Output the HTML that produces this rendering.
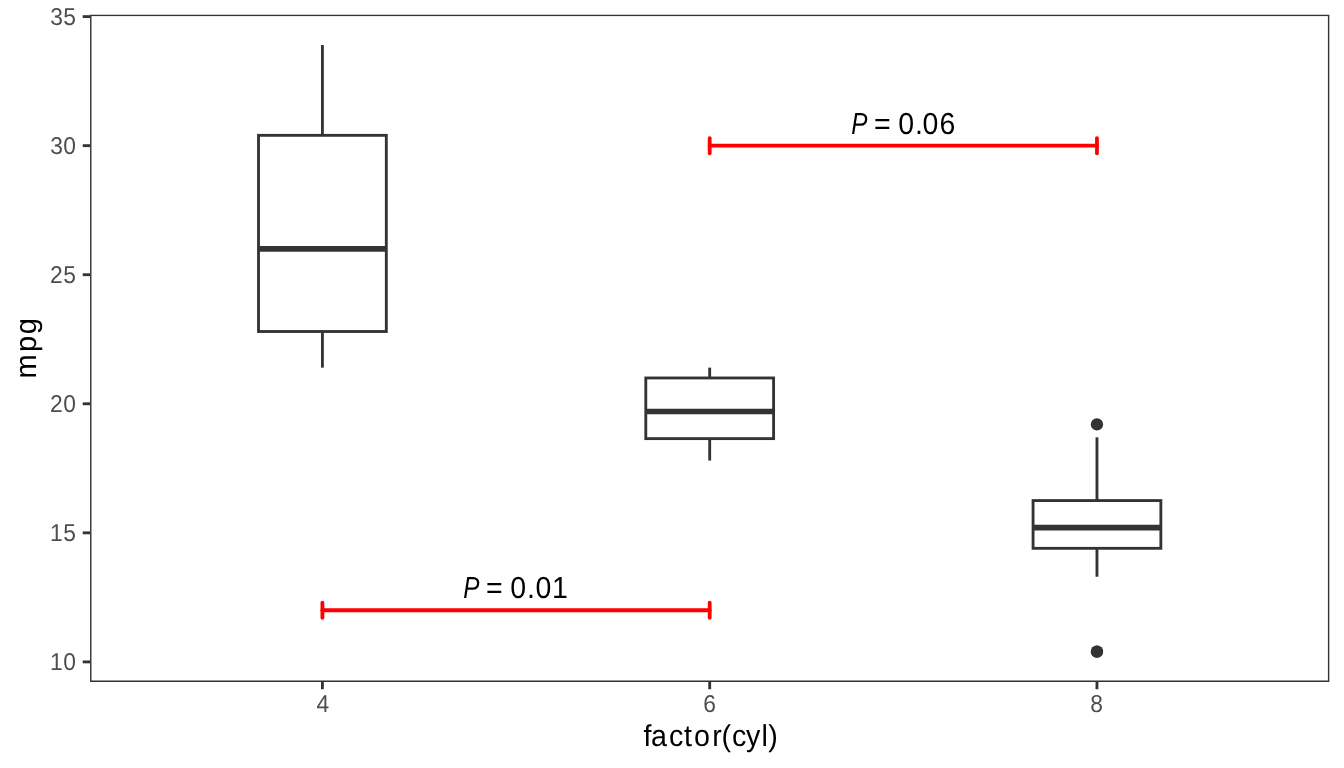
<!DOCTYPE html>
<html lang="en">
<head>
<meta charset="utf-8">
<title>mpg by factor(cyl)</title>
<style>
html,body{margin:0;padding:0;background:#fff;}
body{width:1344px;height:768px;overflow:hidden;}
svg{display:block;}
text{font-family:"Liberation Sans",sans-serif;white-space:pre;text-rendering:geometricPrecision;}
.ax{fill:#4d4d4d;}
.tt{fill:#000;}
.an{fill:#000;}
.bx{fill:#fff;stroke:#333;stroke-width:2.85;stroke-linejoin:miter;}
.wh{fill:none;stroke:#333;stroke-width:2.85;stroke-linecap:butt;}
.md{fill:none;stroke:#333;stroke-width:5.7;stroke-linecap:butt;}
.tk{fill:none;stroke:#333;stroke-width:2.85;stroke-linecap:butt;}
.sg{fill:none;stroke:#f00;stroke-width:3.8;stroke-linecap:round;stroke-linejoin:round;}
.pt{fill:#333;stroke:none;}
</style>
</head>
<body>
<svg width="1344" height="768" viewBox="0 0 1344 768" role="img" aria-label="Boxplot of mpg by factor(cyl) with P value annotations">
<rect x="0" y="0" width="1344" height="768" fill="#fff"/>
<defs><clipPath id="pc"><rect x="90.05" y="14.67" width="1239.28" height="667.23"/></clipPath></defs>
<g>
<line class="wh" x1="322.41" y1="135.34" x2="322.41" y2="45"/>
<line class="wh" x1="322.41" y1="331.51" x2="322.41" y2="367.64"/>
<rect class="bx" x="258.51" y="135.34" width="127.8" height="196.17"/>
<line class="md" x1="258.51" y1="248.91" x2="386.32" y2="248.91"/>
<line class="wh" x1="709.69" y1="377.97" x2="709.69" y2="367.64"/>
<line class="wh" x1="709.69" y1="438.63" x2="709.69" y2="460.57"/>
<rect class="bx" x="645.79" y="377.97" width="127.8" height="60.66"/>
<line class="md" x1="645.79" y1="411.52" x2="773.59" y2="411.52"/>
<circle class="pt" cx="1096.96" cy="424.43" r="6.15"/>
<circle class="pt" cx="1096.96" cy="651.57" r="6.15"/>
<circle class="pt" cx="1096.96" cy="651.57" r="6.15"/>
<line class="wh" x1="1096.96" y1="500.57" x2="1096.96" y2="437.34"/>
<line class="wh" x1="1096.96" y1="548.32" x2="1096.96" y2="576.72"/>
<rect class="bx" x="1033.06" y="500.57" width="127.8" height="47.75"/>
<line class="md" x1="1033.06" y1="527.68" x2="1160.87" y2="527.68"/>
</g>
<line class="sg" x1="709.69" y1="145.66" x2="1096.96" y2="145.66"/>
<line class="sg" x1="709.69" y1="138.06" x2="709.69" y2="153.26"/>
<line class="sg" x1="1096.96" y1="138.06" x2="1096.96" y2="153.26"/>
<line class="sg" x1="322.41" y1="610.27" x2="709.69" y2="610.27"/>
<line class="sg" x1="322.41" y1="602.67" x2="322.41" y2="617.87"/>
<line class="sg" x1="709.69" y1="602.67" x2="709.69" y2="617.87"/>
<text class="an" font-size="30.4" transform="translate(0 134) scale(0.9375 1)" x="908.13 928.41 932.28 950.03 958.16 975.89 983.97 1002.09" y="0"><tspan font-style="italic" textLength="17.3" lengthAdjust="spacingAndGlyphs">P</tspan> = 0.06</text>
<text class="an" font-size="30.4" transform="translate(0 598) scale(0.9375 1)" x="494.26 514.54 518.41 536.16 544.29 562.02 571.12 588.68" y="0"><tspan font-style="italic" textLength="17.3" lengthAdjust="spacingAndGlyphs">P</tspan> = 0.01</text>
<rect x="90.05" y="14.67" width="1239.28" height="667.23" fill="none" stroke="#333" stroke-width="2.85" clip-path="url(#pc)"/>
<line class="tk" x1="82.72" y1="661.9" x2="90.05" y2="661.9"/>
<text class="ax" font-size="24.4" transform="translate(0 670) scale(0.9344 1)" x="53.4 67.65" y="0">10</text>
<line class="tk" x1="82.72" y1="532.84" x2="90.05" y2="532.84"/>
<text class="ax" font-size="24.4" transform="translate(0 541) scale(0.9344 1)" x="53.4 67.65" y="0">15</text>
<line class="tk" x1="82.72" y1="403.78" x2="90.05" y2="403.78"/>
<text class="ax" font-size="24.4" transform="translate(0 412) scale(0.9344 1)" x="53.59 67.65" y="0">20</text>
<line class="tk" x1="82.72" y1="274.72" x2="90.05" y2="274.72"/>
<text class="ax" font-size="24.4" transform="translate(0 283) scale(0.9344 1)" x="53.59 67.65" y="0">25</text>
<line class="tk" x1="82.72" y1="145.66" x2="90.05" y2="145.66"/>
<text class="ax" font-size="24.4" transform="translate(0 154) scale(0.9344 1)" x="53.66 67.65" y="0">30</text>
<line class="tk" x1="82.72" y1="16.61" x2="90.05" y2="16.61"/>
<text class="ax" font-size="24.4" transform="translate(0 25) scale(0.9344 1)" x="53.66 67.65" y="0">35</text>
<line class="tk" x1="322.41" y1="681.9" x2="322.41" y2="689.23"/>
<text class="ax" font-size="24.4" transform="translate(0 712) scale(0.9344 1)" x="338.67" y="0">4</text>
<line class="tk" x1="709.69" y1="681.9" x2="709.69" y2="689.23"/>
<text class="ax" font-size="24.4" transform="translate(0 712) scale(0.9344 1)" x="752.6" y="0">6</text>
<line class="tk" x1="1096.96" y1="681.9" x2="1096.96" y2="689.23"/>
<text class="ax" font-size="24.4" transform="translate(0 712) scale(0.9344 1)" x="1166.78" y="0">8</text>
<text class="tt" font-size="30.2" transform="translate(0 746) scale(0.9500 1)" x="677.31 685.38 704.1 720.11 730.6 749.64 759.54 770.47 785.18 801.64 808.77" y="0">factor(cyl)</text>
<text class="tt" font-size="29.9" transform="translate(36 0) rotate(-90) scale(0.9700 1)" x="-390.24 -362.77 -344.71" y="0">mpg</text>
</svg>
</body>
</html>
